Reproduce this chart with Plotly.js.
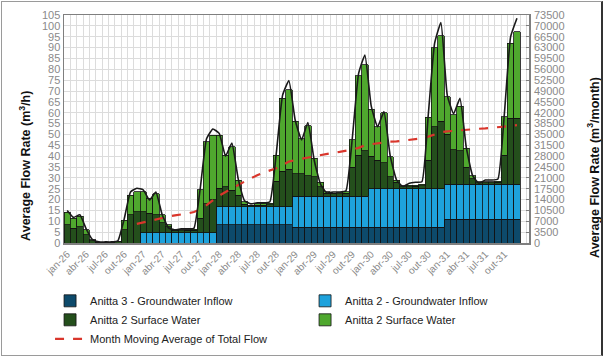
<!DOCTYPE html>
<html>
<head>
<meta charset="utf-8">
<script src="https://cdn.plot.ly/plotly-3.0.1.min.js"></script>
<style>
  html, body { margin: 0; padding: 0; background: #ffffff; }
  #wrap { position: relative; width: 605px; height: 357px; }
  #chart { width: 605px; height: 357px; }
  #frame { position: absolute; left: 1px; top: 1px; width: 599px; height: 353px;
           border: 1px solid #9a9a9a; border-right: 2px solid #333; pointer-events: none; }
</style>
</head>
<body>
<div id="wrap"><div id="chart"></div><div id="frame"></div></div>
<script>
// ---- data ----
const monthNames = ["jan","fev","mar","abr","mai","jun","jul","ago","set","out","nov","dez"];
const years = ["26","27","28","29","30","31"];
const months = [];
years.forEach(y => monthNames.forEach(m => months.push(m + "-" + y)));

const tickLabels = ["jan-26","abr-26","jul-26","out-26","jan-27","abr-27","jul-27","out-27",
  "jan-28","abr-28","jul-28","out-28","jan-29","abr-29","jul-29","out-29",
  "jan-30","abr-30","jul-30","out-30","jan-31","abr-31","jul-31","out-31"];

// Anitta 3 - Groundwater Inflow (m3/h)
const anitta3Groundwater = [
  0,0,0,0,0,0,0,0,0,0,0,0,
  0,0,0,0,0,0,0,0,0,0,0,0,
  8.3,8.3,8.3,8.3,8.3,8.3,8.3,8.3,8.3,8.3,8.3,8.3,
  7.2,7.2,7.2,7.2,7.2,7.2,7.2,7.2,7.2,7.2,7.2,7.2,
  7.2,7.2,7.2,7.2,7.2,7.2,7.2,7.2,7.2,7.2,7.2,7.2,
  10.9,10.9,10.9,10.9,10.9,10.9,10.9,10.9,10.9,10.9,10.9,10.9];

// Anitta 2 - Groundwater Inflow (m3/h)
const anitta2Groundwater = [
  0,0,0,0,0,0,0,0,0,0,0,0,
  4.8,4.8,4.8,4.8,4.8,4.8,4.8,4.8,4.8,4.8,4.8,4.8,
  8.4,8.4,8.4,8.4,8.4,8.4,8.4,8.4,8.4,8.4,8.4,8.4,
  14.3,14.3,14.3,14.3,14.3,14.3,14.3,14.3,14.3,14.3,14.3,14.3,
  17.8,17.8,17.8,17.8,17.8,17.8,17.8,17.8,17.8,17.8,17.8,17.8,
  16.1,16.1,16.1,16.1,16.1,16.1,16.1,16.1,16.1,16.1,16.1,16.1];

// Anitta 2 Surface Water (dark green)
const anitta2SurfaceDark = [
  8.3,6.8,7.5,3.7,1.0,0.2,0.1,0.1,0.5,6.0,13.0,14.4,
  9.6,8.9,8.1,4.6,2.7,1.0,0.8,1.0,1.1,6.6,13.2,15.2,
  8.5,9.2,7.7,5.4,1.1,0.5,0.7,0.8,0.9,11.8,16.3,17.3,
  10.5,10.5,9.5,9.0,4.5,1.5,1.1,1.2,1.3,13.5,19.0,21.0,
  15.0,13.0,12.0,5.5,3.0,1.0,1.0,1.2,1.3,13.2,28.6,31.0,
  23.0,16.0,15.5,8.0,2.5,0.7,0.7,0.8,1.0,13.5,30.4,30.4];

// Anitta 2 Surface Water (light green)
const anitta2SurfaceLight = [
  5.9,4.6,4.9,2.3,0.4,0.1,0.1,0.1,0.3,4.5,9.0,9.2,
  9.2,6.8,9.7,3.5,0.8,0.4,0.4,0.4,0.5,13.1,28.7,29.7,
  24.5,14.6,20.0,6.9,1.2,0.3,0.6,0.7,0.7,12.0,33.6,36.5,
  24.0,16.0,23.0,8.5,2.0,0.5,0.4,0.5,0.7,12.5,36.5,39.5,
  21.5,15.5,23.0,9.3,1.0,0.3,0.5,0.5,0.7,19.8,36.4,39.5,
  17.4,16.0,20.5,8.6,1.5,0.5,0.5,0.5,0.5,17.7,34.6,39.8];

// Total flow line (m3/h)
const totalFlow = [
  15.0,11.8,13.0,6.5,1.5,0.5,0.5,0.5,1.0,11.0,23.5,25.2,
  24.5,19.8,23.5,13.0,7.0,6.0,6.5,6.5,6.7,25.0,48.0,52.5,
  50.5,40.0,46.0,29.5,19.5,18.0,18.5,18.5,19.0,41.0,68.0,74.8,
  56.5,47.5,55.5,38.0,27.0,23.0,23.5,23.5,24.0,48.0,78.0,86.6,
  63.0,53.5,60.5,40.0,29.0,26.0,27.5,28.0,28.2,59.0,92.0,101.5,
  68.0,59.5,66.6,44.0,31.0,27.5,29.0,29.0,29.5,59.0,95.0,103.5];

// 12-month moving average of total flow (m3/h)
const movingAverage = [
  null,null,null,null,null,null,null,null,null,null,null,8.8,
  9.5,10.3,11.1,11.7,12.2,12.7,13.1,13.6,14.3,15.4,17.4,19.6,
  21.8,23.5,25.3,26.7,28.3,29.9,31.2,32.4,33.4,34.4,35.9,37.5,
  38.2,38.8,39.3,40.0,40.7,41.2,41.6,42.0,42.4,43.0,43.8,45.0,
  45.5,46.0,46.5,46.7,46.8,47.1,47.4,47.8,48.2,49.0,50.0,51.0,
  51.4,51.7,52.0,52.3,52.5,52.6,52.8,53.0,53.2,53.6,54.0,54.3];

// ---- chart ----
const xIdx = months.map((_, i) => i);
const tickVals = tickLabels.map(l => months.indexOf(l));
const FONT = "Liberation Sans, Arial, sans-serif";
const barLine = { color: "#111111", width: 0.8 };

const traces = [
  { type: "bar", name: "Anitta 3 - Groundwater Inflow", x: xIdx, y: anitta3Groundwater,
    marker: { color: "#0d4a6b", line: barLine }, hoverinfo: "y" },
  { type: "bar", name: "Anitta 2 - Groundwater Inflow", x: xIdx, y: anitta2Groundwater,
    marker: { color: "#1ea2dc", line: barLine }, hoverinfo: "y" },
  { type: "bar", name: "Anitta 2 Surface Water", x: xIdx, y: anitta2SurfaceDark,
    marker: { color: "#244f1c", line: barLine }, hoverinfo: "y" },
  { type: "bar", name: "Anitta 2 Surface Water ", x: xIdx, y: anitta2SurfaceLight,
    marker: { color: "#4fa82e", line: barLine }, hoverinfo: "y" },
  { type: "scatter", mode: "lines", name: "Month Moving Average of Total Flow", x: xIdx, y: movingAverage,
    line: { color: "#d9362c", width: 2.2, dash: "dash" }, connectgaps: false },
  { type: "scatter", mode: "lines", name: "Total Flow", x: xIdx, y: totalFlow, showlegend: false,
    line: { color: "#1a1a1a", width: 1.6, shape: "spline", smoothing: 0.4 } },
  { type: "scatter", mode: "lines", name: "m3/month", x: [xIdx[0]], y: [0], yaxis: "y2",
    showlegend: false, hoverinfo: "skip", line: { width: 0 } }
];

const layout = {
  width: 605, height: 357,
  margin: { l: 64, r: 76, t: 15, b: 114, autoexpand: false },
  paper_bgcolor: "#ffffff", plot_bgcolor: "#ffffff",
  font: { family: FONT, size: 11, color: "#222" },
  barmode: "stack", bargap: 0,
  showlegend: true,
  legend: {
    orientation: "h", x: -0.03, xanchor: "left", y: -0.19, yanchor: "top",
    entrywidth: 210, entrywidthmode: "pixels", traceorder: "normal",
    font: { family: FONT, size: 11, color: "#222" }, bgcolor: "rgba(0,0,0,0)",
    tracegroupgap: 0, itemwidth: 30
  },
  xaxis: {
    range: [-0.5, 72.9], tickmode: "array", tickvals: tickVals, ticktext: tickLabels,
    tickangle: -45, tickfont: { family: FONT, size: 10, color: "#8a8a8a" },
    showgrid: false, zeroline: false, showline: true, linecolor: "#7f7f7f", linewidth: 1.5,
    mirror: true, ticks: "", automargin: false,
    minor: { tickmode: "linear", tick0: 0.5, dtick: 1, showgrid: true, gridcolor: "#dcdcdc", gridwidth: 1, ticks: "" }
  },
  yaxis: {
    range: [0, 105], dtick: 5, tick0: 0, showgrid: true, gridcolor: "#dcdcdc", gridwidth: 1,
    zeroline: false, showline: true, linecolor: "#7f7f7f", linewidth: 1.5, mirror: true,
    tickfont: { family: FONT, size: 11, color: "#8a8a8a" }, ticks: "", automargin: false
  },
  yaxis2: {
    overlaying: "y", side: "right", range: [0, 73500], dtick: 3500, tick0: 0, tickformat: "d",
    showgrid: false, zeroline: false, showline: false, automargin: false,
    ticks: "inside", ticklen: 3, tickcolor: "#7f7f7f", ticklabelstandoff: 4,
    tickfont: { family: FONT, size: 11, color: "#8a8a8a" }
  },
  annotations: [
    { text: "<b>Average Flow Rate (m<sup>3</sup>/h)</b>", xref: "paper", yref: "paper",
      x: -0.083, y: 0.34, xanchor: "center", yanchor: "middle", textangle: -90, showarrow: false,
      font: { family: FONT, size: 12.5, color: "#111" } },
    { text: "<b>Average Flow Rate (m<sup>3</sup>/month)</b>", xref: "paper", yref: "paper",
      x: 1.138, y: 0.33, xanchor: "center", yanchor: "middle", textangle: -90, showarrow: false,
      font: { family: FONT, size: 12.5, color: "#111" } }
  ]
};

Plotly.newPlot("chart", traces, layout, { displayModeBar: false, staticPlot: true });
</script>
</body>
</html>
